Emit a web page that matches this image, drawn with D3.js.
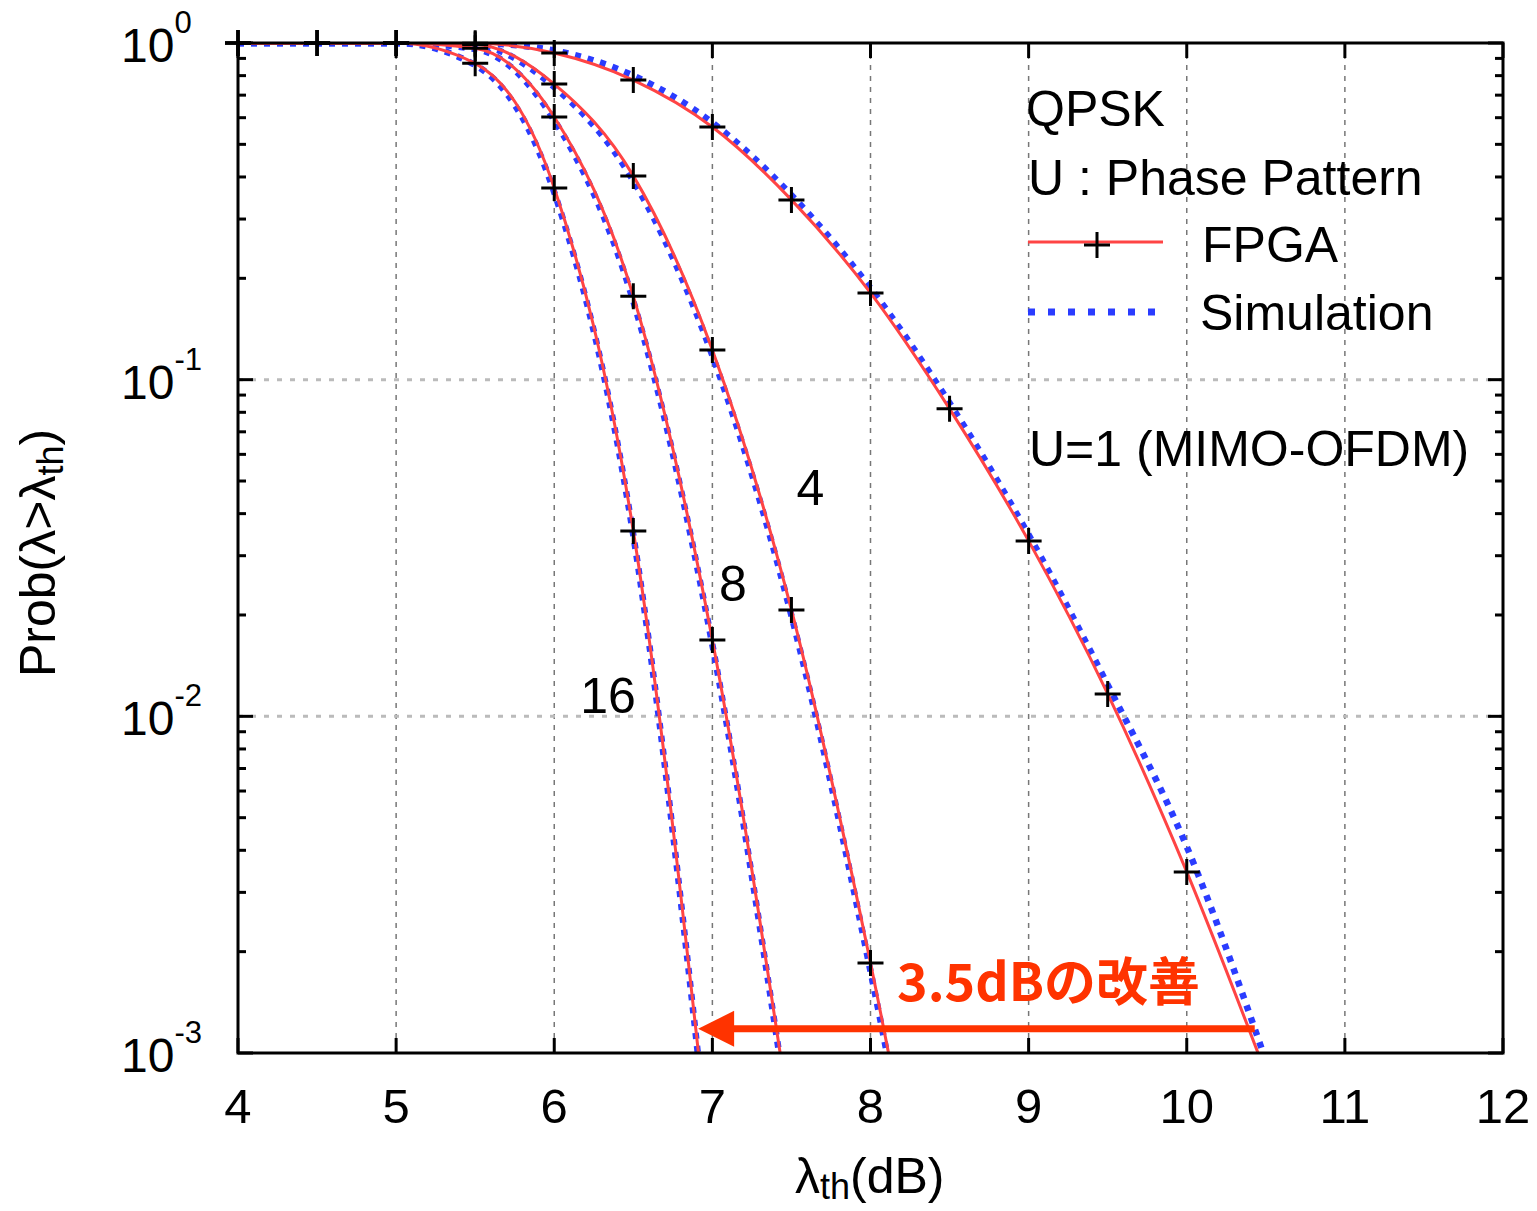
<!DOCTYPE html>
<html>
<head>
<meta charset="utf-8">
<script src="https://cdn.jsdelivr.net/npm/d3@7"></script>
<style>
  html, body { margin: 0; padding: 0; background: #fff; }
  svg { display: block; font-family: "Liberation Sans", Arial, Helvetica, sans-serif; }
</style>
</head>
<body>
<svg id="chart" width="1537" height="1211"></svg>
<script>
// Threshold axis (dB) and tail probabilities Prob(lambda > lambda_th)
const xTicks = [4, 5, 6, 7, 8, 9, 10, 11, 12];
const yDecades = [1, 0.1, 0.01, 0.001];
const yExponents = ["0", "-1", "-2", "-3"];

// U = 1 (MIMO-OFDM)
const thU1 = [4, 4.5, 5, 5.5, 6, 6.5, 7, 7.5, 8, 8.5, 9, 9.5, 10, 10.5];
const fpgaU1 = [1, 1, 1, 0.998, 0.934, 0.776, 0.563, 0.342, 0.181, 0.0819, 0.0332, 0.01166, 0.00345, 0.00087];
const simU1 = [1, 1, 1, 0.999, 0.95, 0.80, 0.58, 0.353, 0.187, 0.0852, 0.0346, 0.0124, 0.0041, 0.00095];

// U = 4
const thU4 = [4, 4.5, 5, 5.5, 6, 6.5, 7, 7.5, 8, 8.5];
const fpgaU4 = [1, 1, 1, 0.99, 0.755, 0.403, 0.1225, 0.0207, 0.00185, 0.00011];
const simU4 = [1, 1, 1, 0.985, 0.74, 0.39, 0.118, 0.0199, 0.00175, 0.0001];

// U = 8
const thU8 = [4, 4.5, 5, 5.5, 6, 6.5, 7, 7.5];
const fpgaU8 = [1, 1, 1, 0.965, 0.603, 0.177, 0.01686, 0.0006];
const simU8 = [1, 1, 1, 0.96, 0.59, 0.171, 0.0163, 0.00057];

// U = 16
const thU16 = [4, 4.5, 5, 5.5, 6, 6.5, 7];
const fpgaU16 = [1, 1, 1, 0.87, 0.371, 0.0355, 0.00042];
const simU16 = [1, 1, 1, 0.86, 0.36, 0.0345, 0.0004];

const curveLabels = ["4", "8", "16"];
const curveLabelPos = [[7.62, 0.0425], [7.13, 0.0220], [6.34, 0.0102]];

const legendTitle = ["QPSK", "U : Phase Pattern"];
const legendNames = ["FPGA", "Simulation"];
const u1Label = "U=1 (MIMO-OFDM)";
const gainLabel = "3.5dBの改善";
const gainFrom = 10.43, gainTo = 6.91, gainLevel = 0.00118;

const red = "#ff4444", blue = "#2a3cff", orange = "#ff3300";

const svg = d3.select("#chart");
const L = 238, R = 1503, T = 43, B = 1053;

const x = d3.scaleLinear().domain([4, 12]).range([L, R]);
const y = d3.scaleLog().domain([0.001, 1]).range([B, T]);

svg.append("defs").append("clipPath").attr("id", "plotclip")
  .append("rect").attr("x", L).attr("y", T).attr("width", R - L).attr("height", B - T);

// grid
const grid = svg.append("g");
grid.selectAll("line.vg").data(xTicks.filter(d => d > 4 && d < 12)).join("line")
  .attr("x1", d => x(d)).attr("x2", d => x(d)).attr("y1", T).attr("y2", B)
  .attr("stroke", "#777").attr("stroke-width", 1.5).attr("stroke-dasharray", "5,6");
grid.selectAll("line.hg").data([0.1, 0.01]).join("line")
  .attr("x1", L).attr("x2", R).attr("y1", d => y(d)).attr("y2", d => y(d))
  .attr("stroke", "#bbb").attr("stroke-width", 3).attr("stroke-dasharray", "5,8");

// ticks (inside, all four sides)
const minor = [];
[1, 0.1, 0.01].forEach(dec => { for (let k = 2; k <= 9; k++) minor.push(dec * k / 10); });
const ticks = svg.append("g").attr("stroke", "#000").attr("stroke-width", 3);
xTicks.forEach(v => {
  ticks.append("line").attr("x1", x(v)).attr("x2", x(v)).attr("y1", B).attr("y2", B - 15);
  ticks.append("line").attr("x1", x(v)).attr("x2", x(v)).attr("y1", T).attr("y2", T + 15);
});
yDecades.forEach(v => {
  ticks.append("line").attr("x1", L).attr("x2", L + 15).attr("y1", y(v)).attr("y2", y(v));
  ticks.append("line").attr("x1", R).attr("x2", R - 15).attr("y1", y(v)).attr("y2", y(v));
});
minor.forEach(v => {
  ticks.append("line").attr("x1", L).attr("x2", L + 8).attr("y1", y(v)).attr("y2", y(v));
  ticks.append("line").attr("x1", R).attr("x2", R - 8).attr("y1", y(v)).attr("y2", y(v));
});

// series
const line = d3.line().x(d => x(d[0])).y(d => y(d[1])).curve(d3.curveMonotoneX);
const series = [
  [thU1, fpgaU1, simU1], [thU4, fpgaU4, simU4], [thU8, fpgaU8, simU8], [thU16, fpgaU16, simU16]
];
const plot = svg.append("g").attr("clip-path", "url(#plotclip)");
series.forEach(([th, fp, sm]) => {
  plot.append("path").datum(th.map((t, i) => [t, sm[i]])).attr("d", line)
    .attr("fill", "none").attr("stroke", blue).attr("stroke-width", 6.5).attr("stroke-dasharray", "6,7");
});
series.forEach(([th, fp, sm]) => {
  plot.append("path").datum(th.map((t, i) => [t, fp[i]])).attr("d", line)
    .attr("fill", "none").attr("stroke", red).attr("stroke-width", 3);
});
function plus(g, cx, cy) {
  g.append("path").attr("d", `M${cx - 13},${cy}H${cx + 13}M${cx},${cy - 13}V${cy + 13}`)
    .attr("stroke", "#000").attr("stroke-width", 3).attr("fill", "none");
}
const marks = svg.append("g");
series.forEach(([th, fp]) => {
  th.forEach((t, i) => { if (fp[i] >= 0.001) plus(marks, x(t), y(fp[i])); });
});

// frame
svg.append("rect").attr("x", L).attr("y", T).attr("width", R - L).attr("height", B - T)
  .attr("fill", "none").attr("stroke", "#000").attr("stroke-width", 3);

// tick labels
svg.append("g").selectAll("text").data(xTicks).join("text")
  .attr("x", d => x(d)).attr("y", 1123).attr("text-anchor", "middle")
  .attr("font-size", 49).attr("fill", "#000").text(d => d);
const yl = svg.append("g").selectAll("text").data(yDecades).join("text")
  .attr("x", 121).attr("y", d => y(d) + 19).attr("font-size", 48).attr("fill", "#000");
yl.append("tspan").text("10");
yl.append("tspan").attr("dy", -29).attr("font-size", 31).text((d, i) => yExponents[i]);

// axis titles
const xt = svg.append("text").attr("x", 795).attr("y", 1193).attr("font-size", 50).attr("fill", "#000");
xt.append("tspan").text("λ");
xt.append("tspan").attr("dy", 6).attr("font-size", 36).text("th");
xt.append("tspan").attr("dy", -6).text("(dB)");

const ytl = svg.append("text").attr("transform", "translate(55,553) rotate(-90)")
  .attr("text-anchor", "middle").attr("font-size", 50).attr("fill", "#000");
ytl.append("tspan").text("Prob(λ>λ");
ytl.append("tspan").attr("dy", 8).attr("font-size", 36).text("th");
ytl.append("tspan").attr("dy", -8).text(")");

// legend
const lg = svg.append("g").attr("font-size", 50).attr("fill", "#000");
lg.append("text").attr("x", 1026).attr("y", 126).text(legendTitle[0]);
lg.append("text").attr("x", 1028).attr("y", 195).text(legendTitle[1]);
lg.append("line").attr("x1", 1028).attr("x2", 1163).attr("y1", 242).attr("y2", 242)
  .attr("stroke", red).attr("stroke-width", 3);
plus(lg, 1097, 245);
lg.append("text").attr("x", 1202).attr("y", 262).text(legendNames[0]);
lg.append("line").attr("x1", 1028).attr("x2", 1163).attr("y1", 312).attr("y2", 312)
  .attr("stroke", blue).attr("stroke-width", 7).attr("stroke-dasharray", "7,13");
lg.append("text").attr("x", 1200).attr("y", 330).text(legendNames[1]);
lg.append("text").attr("x", 1029).attr("y", 466).text(u1Label);

// curve labels
svg.append("g").selectAll("text").data(curveLabels).join("text")
  .attr("x", (d, i) => x(curveLabelPos[i][0]))
  .attr("y", (d, i) => y(curveLabelPos[i][1]))
  .attr("text-anchor", "middle").attr("font-size", 50).attr("fill", "#000").text(d => d);

// improvement arrow
const ay = y(gainLevel);
svg.append("line").attr("x1", x(gainFrom)).attr("x2", x(gainTo) + 30).attr("y1", ay).attr("y2", ay)
  .attr("stroke", orange).attr("stroke-width", 7);
svg.append("path")
  .attr("d", `M${x(gainTo)},${ay}L${x(gainTo) + 36},${ay - 18}L${x(gainTo) + 36},${ay + 18}Z`)
  .attr("fill", orange);
svg.append("text").attr("x", 897).attr("y", 1001).attr("font-size", 52).attr("font-weight", "bold")
  .attr("font-family", "'Noto Sans CJK JP', 'Noto Sans', sans-serif")
  .attr("textLength", 303).attr("lengthAdjust", "spacingAndGlyphs")
  .attr("fill", orange).text(gainLabel);
</script>
</body>
</html>
